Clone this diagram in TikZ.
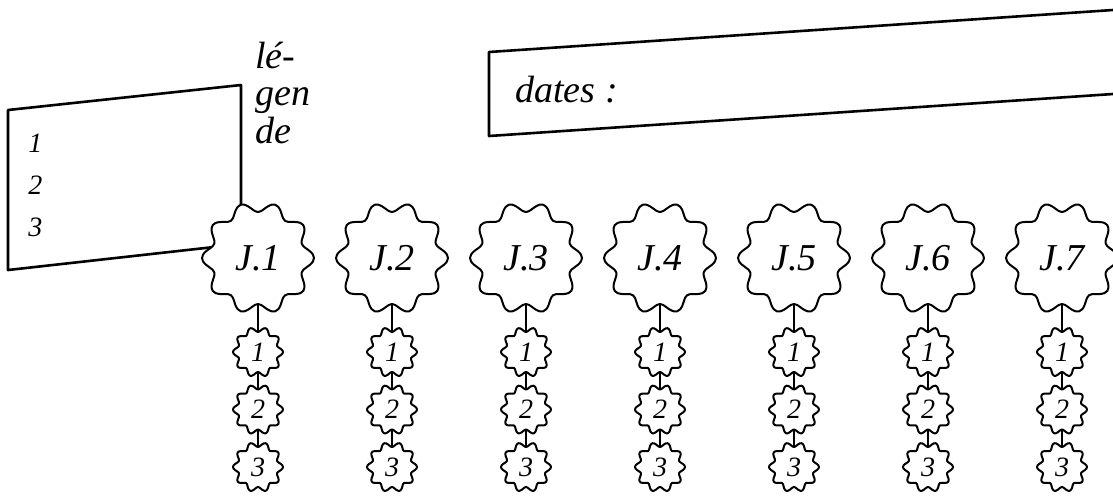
\documentclass[tikz,border=0pt]{standalone}
\usepackage{fontspec}
\setmainfont{Liberation Serif}
\usepackage{tikz}
\usetikzlibrary{positioning, calc}

\begin{document}
\begin{tikzpicture}[x=0.5pt, y=-0.5pt, line join=round,
    cadre/.style={line width=1.3pt},
    bord/.style={fill=white, line width=1pt},
    lien/.style={line width=1pt},
    grand/.style={font=\itshape\fontsize{19}{18.75}\selectfont},
    petit/.style={font=\itshape\fontsize{14}{14}\selectfont},
    jour/.style={circle, inner sep=0pt, outer sep=0pt, minimum size=46pt, grand},
    seance/.style={circle, inner sep=0pt, outer sep=0pt, minimum size=20pt, petit}]
  \clip (0,0) rectangle (1113,495);
  % legende
  \draw[cadre] (241,85) -- (8,110) -- (8,270) -- (241,244) -- cycle;
  \node[grand, anchor=base west, align=left, inner sep=0pt] (legende) at (255,143) {lé-\\gen\\de};
  \foreach \k/\y in {1/152, 2/194, 3/236}
    \node[petit, anchor=base west, inner sep=0pt] (leg\k) at (28,\y) {\k};
  % dates
  \draw[cadre] (1113,10) -- (489,52) -- (489,136) -- (1113,94);
  \node[grand, anchor=base west, inner sep=0pt] (dates) at (515,102) {dates :};
  % jours et seances
  \foreach \j [evaluate=\j as \x using 258+134*(\j-1)] in {1,...,7} {
    \coordinate (c\j) at (\x,258);
    \filldraw[bord, shift={(c\j)}] plot[domain=0:356.4, samples=100, smooth cycle, variable=\t] (\t:{51+5*cos(10*\t)});
    \node[jour] (J\j) at (c\j) {J.\j};
    \foreach \s/\y in {1/352, 2/409.5, 3/467} {
      \coordinate (c\j-\s) at (\x,\y);
      \filldraw[bord, shift={(c\j-\s)}] plot[domain=0:356.4, samples=100, smooth cycle, variable=\t] (\t:{22.5+2.5*cos(10*\t)});
      \node[seance] (J\j-\s) at (c\j-\s) {\s};
    }
    \draw[lien] (J\j) -- (J\j-1);
    \draw[lien] (J\j-1) -- (J\j-2);
    \draw[lien] (J\j-2) -- (J\j-3);
  }
\end{tikzpicture}
\end{document}
